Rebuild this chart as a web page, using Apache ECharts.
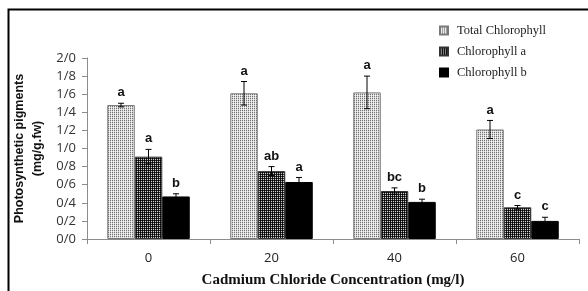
<!DOCTYPE html>
<html>
<head>
<meta charset="utf-8">
<script src="https://cdn.jsdelivr.net/npm/echarts@6/dist/echarts.min.js"></script>
<style>
  html, body { margin: 0; padding: 0; background: #fff; }
  #chart { width: 588px; height: 291px; }
</style>
</head>
<body>
<div id="chart"></div>
<script>
// datos
var categorias = ['0', '20', '40', '60'];
var nombresSeries = ['Total Chlorophyll', 'Chlorophyll a', 'Chlorophyll b'];
var totalClorofila = [1.48, 1.61, 1.62, 1.21];
var clorofilaA = [0.91, 0.75, 0.53, 0.35];
var clorofilaB = [0.47, 0.63, 0.41, 0.20];
var errorTotal = [0.02, 0.13, 0.18, 0.10];
var errorA = [0.08, 0.05, 0.035, 0.02];
var errorB = [0.03, 0.05, 0.03, 0.04];
var letrasTotal = ['a', 'a', 'a', 'a'];
var letrasA = ['a', 'ab', 'bc', 'c'];
var letrasB = ['b', 'a', 'b', 'c'];
var yTicks = ['0/0', '0/2', '0/4', '0/6', '0/8', '1/0', '1/2', '1/4', '1/6', '1/8', '2/0'];

// Patrones de relleno (tramas)
function crearPatron(pixeles) {
  var c = document.createElement('canvas');
  c.width = 2; c.height = 2;
  var ctx = c.getContext('2d');
  for (var i = 0; i < 4; i++) {
    ctx.fillStyle = pixeles[i];
    ctx.fillRect(i % 2, Math.floor(i / 2), 1, 1);
  }
  return { image: c, repeat: 'repeat' };
}
var patronTotal = crearPatron(['#707070', '#e4e4e4', '#d0d0d0', '#f4f4f4']);
var patronA = crearPatron(['#000000', '#303030', '#202020', '#d0d0d0']);

var valores = [totalClorofila, clorofilaA, clorofilaB];
var errores = [errorTotal, errorA, errorB];
var letras = [letrasTotal, letrasA, letrasB];
var colores = [patronTotal, patronA, '#000000'];
var bordes = ['#7a7a7a', '#333333', '#000000'];
var anchoBarra = 27.5;

var series = [];
for (var s = 0; s < 3; s++) {
  series.push({
    name: nombresSeries[s],
    type: 'bar',
    barWidth: anchoBarra,
    barGap: '0%',
    data: valores[s],
    itemStyle: { color: colores[s], borderColor: bordes[s], borderWidth: 1 }
  });
}

// Barras de error y letras
for (var s2 = 0; s2 < 3; s2++) {
  (function (idx) {
    var datos = valores[idx].map(function (v, i) { return [i, v, errores[idx][i]]; });
    series.push({
      type: 'custom',
      z: 10,
      silent: true,
      data: datos,
      encode: { x: 0, y: 1 },
      renderItem: function (params, api) {
        var i = api.value(0);
        var v = api.value(1);
        var e = api.value(2);
        var offset = (idx - 1) * anchoBarra;
        var arriba = api.coord([i, v + e]);
        var abajo = api.coord([i, v - e]);
        var x = arriba[0] + offset;
        var cap = 3;
        return {
          type: 'group',
          children: [
            { type: 'line', shape: { x1: x, y1: arriba[1], x2: x, y2: abajo[1] }, style: { stroke: '#000', lineWidth: 1 } },
            { type: 'line', shape: { x1: x - cap, y1: arriba[1], x2: x + cap, y2: arriba[1] }, style: { stroke: '#000', lineWidth: 1 } },
            { type: 'line', shape: { x1: x - cap, y1: abajo[1], x2: x + cap, y2: abajo[1] }, style: { stroke: '#000', lineWidth: 1 } },
            { type: 'text', style: { text: letras[idx][i], x: x, y: arriba[1] - 4, align: 'center', verticalAlign: 'bottom',
                fontFamily: 'Liberation Sans', fontWeight: 'bold', fontSize: 13, fill: '#111' } }
          ]
        };
      }
    });
  })(s2);
}

var chart = echarts.init(document.getElementById('chart'));
chart.setOption({
  animation: false,
  grid: { left: 87, right: 9, top: 58, bottom: 52, outerBoundsMode: 'none' },
  legend: {
    data: nombresSeries,
    orient: 'vertical',
    left: 434,
    top: 19,
    itemWidth: 8,
    itemHeight: 8,
    itemGap: 8,
    icon: 'rect',
    textStyle: { fontFamily: 'Liberation Serif', fontSize: 12.5, color: '#222', padding: [0, 0, 0, 4] }
  },
  xAxis: {
    type: 'category',
    data: categorias,
    axisLine: { lineStyle: { color: '#8c8c8c' } },
    axisTick: { show: true, length: 5, lineStyle: { color: '#8c8c8c' } },
    axisLabel: { fontFamily: 'Open Sans', fontSize: 13, color: '#222', margin: 13 },
    name: 'Cadmium Chloride Concentration (mg/l)',
    nameLocation: 'middle',
    nameGap: 34,
    nameTextStyle: { fontFamily: 'Liberation Serif', fontWeight: 'bold', fontSize: 15, color: '#111' }
  },
  yAxis: {
    type: 'value',
    min: 0,
    max: 2,
    interval: 0.2,
    axisLine: { show: true, lineStyle: { color: '#8c8c8c' } },
    axisTick: { show: true, length: 5, lineStyle: { color: '#8c8c8c' } },
    splitLine: { show: false },
    axisLabel: {
      fontFamily: 'Open Sans', fontSize: 13, color: '#333', margin: 11,
      formatter: function (v) { return yTicks[Math.round(v / 0.2)]; }
    },
    name: 'Photosynthetic pigments\n(mg/g.fw)',
    nameLocation: 'middle',
    nameGap: 40,
    nameMoveOverlap: false,
    nameTextStyle: { fontFamily: 'Liberation Sans', fontWeight: 'bold', fontSize: 12.5, color: '#111', lineHeight: 18 }
  },
  graphic: [
    { type: 'rect', left: 6, top: 7, shape: { width: 620, height: 320 }, style: { fill: 'none', stroke: '#000', lineWidth: 2 }, z: 100 }
  ],
  series: series
});
</script>
</body>
</html>
